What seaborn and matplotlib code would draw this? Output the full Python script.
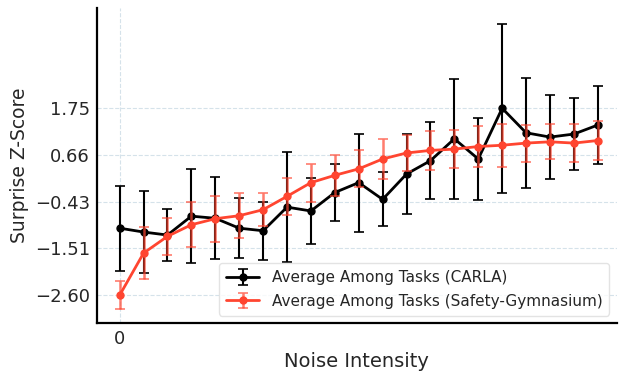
import numpy as np
import matplotlib
matplotlib.use("Agg")
import matplotlib.pyplot as plt
import seaborn as sns

noise = list(range(21))
carla_mean = [-1.04, -1.13, -1.20, -0.76, -0.81, -1.04, -1.10, -0.55, -0.64, -0.21, 0.02,
              -0.37, 0.22, 0.53, 1.04, 0.57, 1.75, 1.18, 1.08, 1.15, 1.36]
carla_err = [0.99, 0.96, 0.60, 1.09, 0.95, 0.70, 0.67, 1.28, 0.76, 0.67, 1.14,
             0.63, 0.93, 0.90, 1.39, 0.96, 1.96, 1.28, 0.97, 0.83, 0.91]
safety_mean = [-2.60, -1.62, -1.23, -0.96, -0.82, -0.75, -0.61, -0.30, 0.02, 0.19, 0.34,
               0.57, 0.71, 0.77, 0.80, 0.86, 0.89, 0.94, 0.97, 0.94, 1.00]
safety_err = [0.33, 0.60, 0.43, 0.52, 0.54, 0.52, 0.39, 0.43, 0.44, 0.48, 0.43,
              0.46, 0.42, 0.45, 0.44, 0.47, 0.50, 0.43, 0.41, 0.44, 0.46]
labels = ["Average Among Tasks (CARLA)", "Average Among Tasks (Safety-Gymnasium)"]
yticks = [-2.60, -1.51, -0.43, 0.66, 1.75]

sns.set_style("white")
plt.rcParams['font.family'] = ['DejaVu Sans']

fig = plt.figure(figsize=(6.2, 3.71), dpi=100)
ax = fig.add_axes([0.156, 0.129, 0.839, 0.849])

ax.errorbar(noise, carla_mean, yerr=carla_err, color='black', marker='o', markersize=5,
            linewidth=2, elinewidth=1.5, capsize=3.5, capthick=1.2, label=labels[0], zorder=3)
eb = ax.errorbar(noise, safety_mean, yerr=safety_err, color='#ff4530', marker='o', markersize=5,
                 linewidth=2, elinewidth=1.8, capsize=3.5, capthick=1.2, label=labels[1], zorder=4)
for c in eb[2]:
    c.set_alpha(0.7)
for c in eb[1]:
    c.set_alpha(0.7)

ax.set_xlim(-0.96, 20.8)
ax.set_ylim(-3.25, 4.08)
ax.set_xticks([0])
ax.set_xticklabels(["0"])
ax.set_yticks(yticks)
ax.set_yticklabels([f"{v:.2f}".replace("-", "\u2212") for v in yticks])
ax.tick_params(axis='both', labelsize=13, length=2, width=0.8, color='#dddddd', pad=3)
ax.grid(True, linestyle='--', color='#d5e2ea', linewidth=0.8)
ax.set_xlabel("Noise Intensity", fontsize=14, labelpad=3)
ax.set_ylabel("Surprise Z-Score", fontsize=13.5, labelpad=4)

for s in ['top', 'right']:
    ax.spines[s].set_visible(False)
for s in ['left', 'bottom']:
    ax.spines[s].set_color('black')
    ax.spines[s].set_linewidth(1.6)

ax.legend(loc='lower right', fontsize=11.0, frameon=True, edgecolor='#dddddd',
          borderaxespad=0.5, handlelength=2.2, borderpad=0.45, labelspacing=0.55)

fig.savefig("out.png", dpi=100)
